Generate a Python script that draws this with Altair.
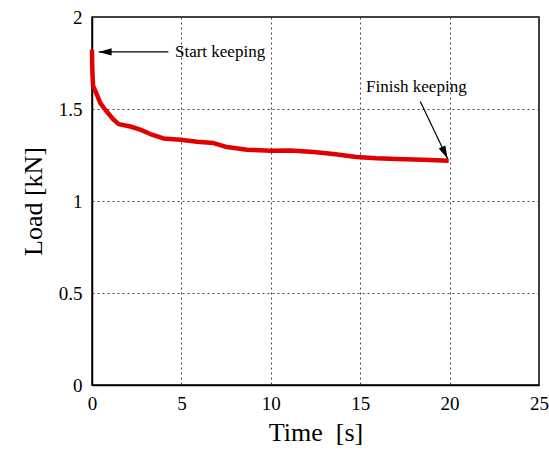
import altair as alt
import pandas as pd

# Load relaxation while holding position
time_s = [0.0, 0.01, 0.03, 0.06, 0.18, 0.46, 0.74, 1.21, 1.49, 2.14, 2.70, 3.26, 4.00,
          4.94, 5.87, 6.80, 7.55, 8.67, 9.97, 11.1, 12.4, 13.5, 14.8, 15.9, 17.06, 18.5, 19.95]
load_kn = [1.822, 1.75, 1.68, 1.625, 1.600, 1.533, 1.496, 1.442, 1.418, 1.405, 1.388, 1.364, 1.340,
           1.333, 1.322, 1.315, 1.293, 1.279, 1.273, 1.275, 1.266, 1.255, 1.239, 1.232, 1.228, 1.224, 1.219]

# Annotation text and arrow geometry (data units)
notes = ["Start keeping", "Finish keeping"]
note_x = [4.64, 18.14]
note_y = [1.81, 1.62]
arrow_x = [4.27, 18.36]
arrow_y = [1.81, 1.541]
tip_x = [0.37, 19.89]
tip_y = [1.81, 1.230]
tip_angle = [0, 244.5]

FONT = "Liberation Serif"

curve = pd.DataFrame({"t": time_s, "load": load_kn})
ann = pd.DataFrame({"label": notes, "lx": note_x, "ly": note_y,
                    "ax": arrow_x, "ay": arrow_y, "tx": tip_x, "ty": tip_y,
                    "ang": tip_angle})

xscale = alt.Scale(domain=[0, 25], nice=False)
yscale = alt.Scale(domain=[0, 2], nice=False)

xaxis = alt.Axis(values=[0, 5, 10, 15, 20, 25], title="Time\u00a0\u00a0[s]", labelFont=FONT,
                 titleFont=FONT, labelFontSize=19, titleFontSize=26, titleFontWeight="normal",
                 labelColor="black", titleColor="black", tickSize=0, labelPadding=9,
                 titlePadding=6, grid=True, gridDash=[2, 3], gridColor="#444444",
                 gridWidth=1, domainColor="black", domainWidth=1.5, labelFlush=False)
yaxis = alt.Axis(values=[0, 0.5, 1, 1.5, 2], title="Load [kN]", labelFont=FONT, titleFont=FONT,
                 labelFontSize=19, titleFontSize=26, titleFontWeight="normal",
                 labelColor="black", titleColor="black", tickSize=0, labelPadding=10,
                 titlePadding=12, grid=True, gridDash=[2, 3], gridColor="#444444",
                 gridWidth=1, domainColor="black", domainWidth=1.5, format="~g",
                 labelFlush=False)

line = alt.Chart(curve).mark_line(color="#e00000", strokeWidth=4.5, strokeJoin="round").encode(
    x=alt.X("t:Q", scale=xscale, axis=xaxis),
    y=alt.Y("load:Q", scale=yscale, axis=yaxis),
)

shafts = alt.Chart(ann).mark_rule(color="black", strokeWidth=1.2).encode(
    x=alt.X("ax:Q", scale=xscale), y=alt.Y("ay:Q", scale=yscale),
    x2="tx:Q", y2="ty:Q",
)

heads = alt.Chart(ann).mark_point(
    shape="M0,0L1,-0.28L1,0.28Z", filled=True, color="black", opacity=1, size=676,
).encode(
    x=alt.X("tx:Q", scale=xscale), y=alt.Y("ty:Q", scale=yscale),
    angle=alt.Angle("ang:Q", scale=None),
)

labels = alt.Chart(ann).transform_filter(alt.datum.label == "Start keeping").mark_text(
    font=FONT, fontSize=17, align="left", baseline="middle", color="black",
).encode(x=alt.X("lx:Q", scale=xscale), y=alt.Y("ly:Q", scale=yscale), text="label:N")

labels2 = alt.Chart(ann).transform_filter(alt.datum.label == "Finish keeping").mark_text(
    font=FONT, fontSize=17, align="center", baseline="middle", color="black",
).encode(x=alt.X("lx:Q", scale=xscale), y=alt.Y("ly:Q", scale=yscale), text="label:N")

chart = alt.layer(line, shafts, heads, labels, labels2).properties(
    width=447, height=368,
    autosize=alt.AutoSizeParams(type="none"),
    padding={"left": 92, "top": 17, "right": 10, "bottom": 68},
    background="white",
).configure_view(stroke="black", strokeWidth=1.5)

chart.save("out.html", embed_options={"renderer": "svg", "actions": False})
